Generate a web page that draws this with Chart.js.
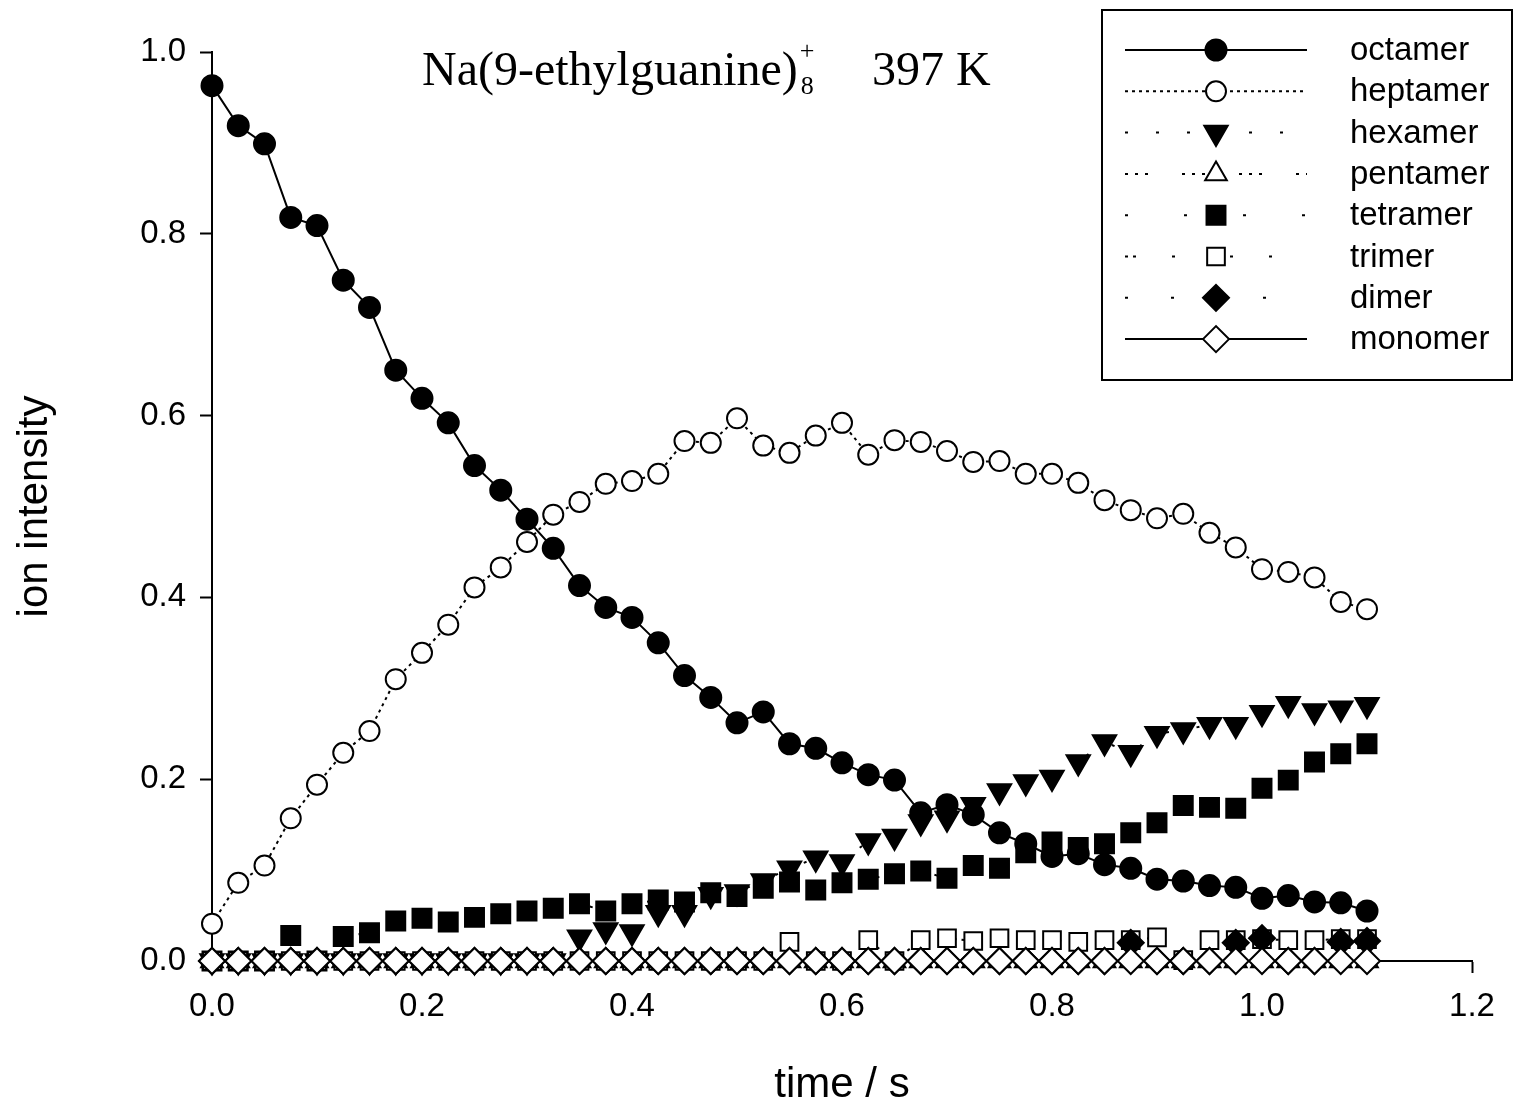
<!DOCTYPE html>
<html>
<head>
<meta charset="utf-8">
<title>Na(9-ethylguanine)8+ 397 K</title>
<script src="https://cdn.jsdelivr.net/npm/chart.js@4.4.1/dist/chart.umd.min.js"></script>
<style>
  html, body { margin: 0; padding: 0; background: #fff; }
  canvas { display: block; }
</style>
</head>
<body>
<canvas id="myChart" width="1514" height="1106"></canvas>
<script>
// Reaction time (s), one sample every 25 ms
const TIME = [
  0.000, 0.025, 0.050, 0.075, 0.100, 0.125, 0.150, 0.175, 0.200,
  0.225, 0.250, 0.275, 0.300, 0.325, 0.350, 0.375, 0.400, 0.425,
  0.450, 0.475, 0.500, 0.525, 0.550, 0.575, 0.600, 0.625, 0.650,
  0.675, 0.700, 0.725, 0.750, 0.775, 0.800, 0.825, 0.850, 0.875,
  0.900, 0.925, 0.950, 0.975, 1.000, 1.025, 1.050, 1.075, 1.100
];

// Normalised ion intensities per cluster size
const OCTAMER = [
  0.963, 0.919, 0.899, 0.818, 0.809, 0.749, 0.719, 0.650, 0.619,
  0.592, 0.545, 0.518, 0.486, 0.454, 0.413, 0.389, 0.378, 0.350,
  0.314, 0.290, 0.262, 0.274, 0.239, 0.234, 0.218, 0.205, 0.199,
  0.163, 0.172, 0.161, 0.141, 0.129, 0.115, 0.118, 0.106, 0.102,
  0.090, 0.088, 0.083, 0.081, 0.069, 0.072, 0.065, 0.064, 0.055
];
const HEPTAMER = [
  0.041, 0.086, 0.105, 0.157, 0.194, 0.229, 0.253, 0.310, 0.339,
  0.370, 0.411, 0.433, 0.461, 0.491, 0.505, 0.525, 0.528, 0.536,
  0.572, 0.570, 0.597, 0.567, 0.559, 0.578, 0.592, 0.557, 0.573,
  0.571, 0.561, 0.549, 0.550, 0.536, 0.536, 0.526, 0.507, 0.496,
  0.487, 0.492, 0.471, 0.455, 0.431, 0.428, 0.422, 0.395, 0.387
];
const HEXAMER = [
  0, 0, 0, 0, 0, 0, 0, 0, 0,
  0, 0, 0, 0, 0, 0.026, 0.034, 0.032, 0.053,
  0.053, 0.073, 0.076, 0.088, 0.102, 0.113, 0.109, 0.132, 0.137,
  0.153, 0.157, 0.172, 0.187, 0.197, 0.202, 0.219, 0.241, 0.229,
  0.250, 0.254, 0.260, 0.260, 0.273, 0.283, 0.275, 0.278, 0.282
];
const PENTAMER = [
  0, 0, 0, 0, 0, 0, 0, 0, 0,
  0, 0, 0, 0, 0, 0, 0, 0, 0,
  0, 0, 0, 0, 0, 0, 0, 0, 0,
  0, 0, 0, 0, 0, 0, 0, 0, 0,
  0, 0, 0, 0, 0, 0, 0, 0, 0
];
const TETRAMER = [
  0, 0, 0, 0.028, 0, 0.027, 0.031, 0.044, 0.047,
  0.043, 0.048, 0.052, 0.055, 0.058, 0.063, 0.055, 0.063, 0.067,
  0.065, 0.075, 0.071, 0.080, 0.087, 0.078, 0.086, 0.090, 0.096,
  0.099, 0.091, 0.105, 0.102, 0.119, 0.131, 0.125, 0.129, 0.141,
  0.152, 0.171, 0.169, 0.168, 0.190, 0.199, 0.219, 0.228, 0.239
];
const TRIMER = [
  0, 0, 0, 0, 0, 0, 0, 0, 0,
  0, 0, 0, 0, 0, 0, 0, 0, 0,
  0, 0, 0, 0, 0.021, 0, 0, 0.023, 0,
  0.023, 0.025, 0.022, 0.025, 0.023, 0.023, 0.021, 0.023, 0.023,
  0.026, 0.001, 0.023, 0.023, 0.024, 0.023, 0.023, 0.024, 0.024
];
const DIMER = [
  0, 0, 0, 0, 0, 0, 0, 0, 0,
  0, 0, 0, 0, 0, 0, 0, 0, 0,
  0, 0, 0, 0, 0, 0, 0, 0, 0,
  0, 0, 0, 0, 0, 0, 0, 0, 0.020,
  0, 0, 0, 0.020, 0.025, 0, 0, 0.021, 0.022
];
const MONOMER = [
  0, 0, 0, 0, 0, 0, 0, 0, 0,
  0, 0, 0, 0, 0, 0, 0, 0, 0,
  0, 0, 0, 0, 0, 0, 0, 0, 0,
  0, 0, 0, 0, 0, 0, 0, 0, 0,
  0, 0, 0, 0, 0, 0, 0, 0, 0
];

const SERIES_NAMES = ["octamer", "heptamer", "hexamer", "pentamer", "tetramer", "trimer", "dimer", "monomer"];
const SERIES_VALUES = [OCTAMER, HEPTAMER, HEXAMER, PENTAMER, TETRAMER, TRIMER, DIMER, MONOMER];

const X_TICKS = [0, 0.2, 0.4, 0.6, 0.8, 1.0, 1.2];
const Y_TICKS = [0, 0.2, 0.4, 0.6, 0.8, 1.0];

const TITLE_MAIN = "Na(9-ethylguanine)";
const TITLE_SUB = "8";
const TITLE_SUP = "+";
const TITLE_TEMP = "397 K";

const SANS = '"Liberation Sans", Arial, Helvetica, sans-serif';
const SERIF = '"Liberation Serif", "Times New Roman", serif';

// Marker / line look for each cluster size
const STYLES = [
  { pointStyle: "circle",   rotation: 0,   radius: 10.5, fill: "#000", dash: [] },
  { pointStyle: "circle",   rotation: 0,   radius: 10,   fill: "#fff", dash: [3, 4] },
  { pointStyle: "triangle", rotation: 180, radius: 13.5, fill: "#000", dash: [3, 28] },
  { pointStyle: "triangle", rotation: 0,   radius: 12.5, fill: "#fff", dash: [3, 7, 3, 7, 3, 34] },
  { pointStyle: "rect",     rotation: 0,   radius: 13.4, fill: "#000", dash: [3, 56] },
  { pointStyle: "rect",     rotation: 0,   radius: 12.5, fill: "#fff", dash: [3, 5, 3, 36, 3, 47] },
  { pointStyle: "rectRot",  rotation: 0,   radius: 13,   fill: "#000", dash: [3, 43] },
  { pointStyle: "rectRot",  rotation: 0,   radius: 13,   fill: "#fff", dash: [] }
];

const datasets = SERIES_NAMES.map((name, i) => ({
  label: name,
  data: TIME.map((t, k) => ({ x: t, y: SERIES_VALUES[i][k] })),
  borderColor: "#000",
  borderWidth: 2,
  borderDash: STYLES[i].dash,
  pointStyle: STYLES[i].pointStyle,
  pointRotation: STYLES[i].rotation,
  pointRadius: STYLES[i].radius,
  pointBackgroundColor: STYLES[i].fill,
  pointBorderColor: "#000",
  pointBorderWidth: 2,
  tension: 0,
  fill: false,
  clip: false,
  // later series sit on top of earlier ones
  order: SERIES_NAMES.length - 1 - i
}));

// Boxed legend in the top right corner, drawn from the datasets
const boxedLegend = {
  id: "boxedLegend",
  afterDraw(chart) {
    const ctx = chart.ctx;
    ctx.save();
    ctx.fillStyle = "#fff";
    ctx.fillRect(1102, 10, 410, 370);
    ctx.strokeStyle = "#000";
    ctx.lineWidth = 2;
    ctx.strokeRect(1102, 10, 410, 370);

    chart.data.datasets.forEach((ds, i) => {
      const y = 50 + i * 41.3;
      ctx.strokeStyle = "#000";
      ctx.lineWidth = ds.borderWidth;
      ctx.setLineDash(ds.borderDash);
      ctx.beginPath();
      ctx.moveTo(1125, y);
      ctx.lineTo(1307, y);
      ctx.stroke();
      ctx.setLineDash([]);

      ctx.fillStyle = ds.pointBackgroundColor;
      ctx.strokeStyle = ds.pointBorderColor;
      ctx.lineWidth = ds.pointBorderWidth;
      Chart.helpers.drawPoint(ctx, {
        pointStyle: ds.pointStyle,
        rotation: ds.pointRotation,
        radius: ds.pointRadius,
        borderWidth: ds.pointBorderWidth
      }, 1216, y);

      ctx.fillStyle = "#000";
      ctx.font = "33px " + SANS;
      ctx.textBaseline = "middle";
      ctx.textAlign = "left";
      ctx.fillText(ds.label, 1350, y + 1);
    });
    ctx.restore();
  }
};

// Ion formula with stacked sub/superscript, plus temperature
const plotTitle = {
  id: "plotTitle",
  afterDraw(chart) {
    const ctx = chart.ctx;
    ctx.save();
    ctx.fillStyle = "#000";
    ctx.textBaseline = "alphabetic";
    ctx.textAlign = "left";
    ctx.font = "48px " + SERIF;
    const x0 = 422, base = 85;
    ctx.fillText(TITLE_MAIN, x0, base);
    const w = ctx.measureText(TITLE_MAIN).width;
    ctx.font = "26px " + SERIF;
    ctx.fillText(TITLE_SUP, x0 + w + 2, base - 26);
    ctx.fillText(TITLE_SUB, x0 + w + 3, base + 9);
    ctx.font = "48px " + SERIF;
    ctx.fillText(TITLE_TEMP, 872, base);
    ctx.restore();
  }
};

new Chart("myChart", {
  type: "line",
  data: { datasets },
  options: {
    responsive: false,
    animation: false,
    events: [],
    layout: { padding: { top: 52, right: 42, left: 0, bottom: 0 } },
    plugins: {
      legend: { display: false },
      tooltip: { enabled: false }
    },
    scales: {
      x: {
        type: "linear",
        min: X_TICKS[0],
        max: X_TICKS[X_TICKS.length - 1],
        afterBuildTicks(scale) { scale.ticks = X_TICKS.map(v => ({ value: v })); },
        ticks: {
          callback: v => v.toFixed(1),
          color: "#000",
          font: { family: SANS, size: 33 },
          padding: 14,
          maxRotation: 0,
          autoSkip: false
        },
        grid: {
          display: true,
          drawOnChartArea: false,
          drawTicks: true,
          tickLength: 12,
          tickWidth: 2,
          tickColor: "#000"
        },
        border: { display: true, color: "#000", width: 2 },
        title: {
          display: true,
          text: "time / s",
          color: "#000",
          font: { family: SANS, size: 42, lineHeight: 1 },
          padding: { top: 0, bottom: 0 }
        },
        afterFit(scale) { scale.height = 145; }
      },
      y: {
        type: "linear",
        min: Y_TICKS[0],
        max: Y_TICKS[Y_TICKS.length - 1],
        afterBuildTicks(scale) { scale.ticks = Y_TICKS.map(v => ({ value: v })); },
        ticks: {
          callback: v => v.toFixed(1),
          color: "#000",
          font: { family: SANS, size: 33 },
          padding: 14,
          autoSkip: false
        },
        grid: {
          display: true,
          drawOnChartArea: false,
          drawTicks: true,
          tickLength: 12,
          tickWidth: 2,
          tickColor: "#000"
        },
        border: { display: true, color: "#000", width: 2 },
        title: {
          display: true,
          text: "ion intensity",
          color: "#000",
          font: { family: SANS, size: 42 },
          padding: { top: 10, bottom: 0 }
        },
        afterFit(scale) { scale.width = 212; }
      }
    }
  },
  plugins: [boxedLegend, plotTitle]
});
</script>
</body>
</html>
